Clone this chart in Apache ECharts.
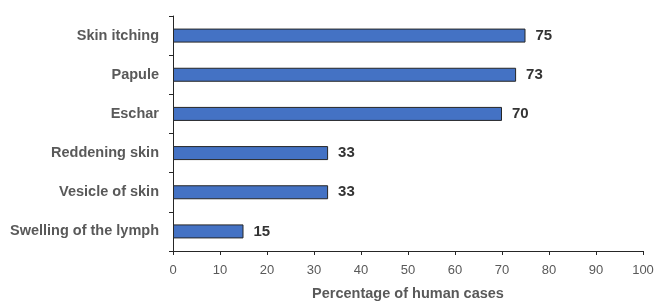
<!DOCTYPE html>
<html>
<head>
<meta charset="utf-8">
<script src="https://cdn.jsdelivr.net/npm/echarts@6/dist/echarts.min.js"></script>
<style>
    html, body { margin: 0; padding: 0; background: #fff; }
    #main { width: 660px; height: 306px; }
</style>
</head>
<body>
<div id="main"></div>
<script>
// 数据 - 从上到下
var symptoms = ['Skin itching', 'Papule', 'Eschar', 'Reddening skin', 'Vesicle of skin', 'Swelling of the lymph'];
var percentages = [75, 73, 70, 33, 33, 15];
var xTicks = [0, 10, 20, 30, 40, 50, 60, 70, 80, 90, 100];

var myChart = echarts.init(document.getElementById('main'));

var option = {
    animation: false,
    textStyle: {
        fontFamily: 'Liberation Sans, Arial, sans-serif'
    },
    grid: {
        left: 173,
        right: 17,
        top: 16,
        bottom: 53
    },
    xAxis: {
        type: 'value',
        min: xTicks[0],
        max: xTicks[xTicks.length - 1],
        interval: 10,
        name: 'Percentage of human cases',
        nameLocation: 'middle',
        nameGap: 35,
        nameTextStyle: {
            fontSize: 14.5,
            fontWeight: 'bold',
            color: '#595959'
        },
        axisLine: { show: true, lineStyle: { color: '#262626', width: 1 } },
        axisTick: { show: true, length: 4, lineStyle: { color: '#262626' } },
        axisLabel: { fontSize: 13, color: '#595959', margin: 13 },
        splitLine: { show: false }
    },
    yAxis: {
        type: 'category',
        inverse: true,
        data: symptoms,
        axisLine: { show: true, lineStyle: { color: '#262626', width: 1 } },
        axisTick: { show: true, length: 4, lineStyle: { color: '#262626' } },
        axisLabel: {
            fontSize: 14.5,
            fontWeight: 'bold',
            color: '#595959',
            margin: 14
        }
    },
    series: [
        {
            type: 'bar',
            data: percentages,
            barWidth: 14,
            itemStyle: {
                color: '#4472C4',
                borderColor: '#262626',
                borderWidth: 1
            },
            label: {
                show: true,
                position: 'right',
                distance: 10,
                fontSize: 15,
                fontWeight: 'bold',
                color: '#333333'
            }
        }
    ]
};

myChart.setOption(option);
</script>
</body>
</html>
